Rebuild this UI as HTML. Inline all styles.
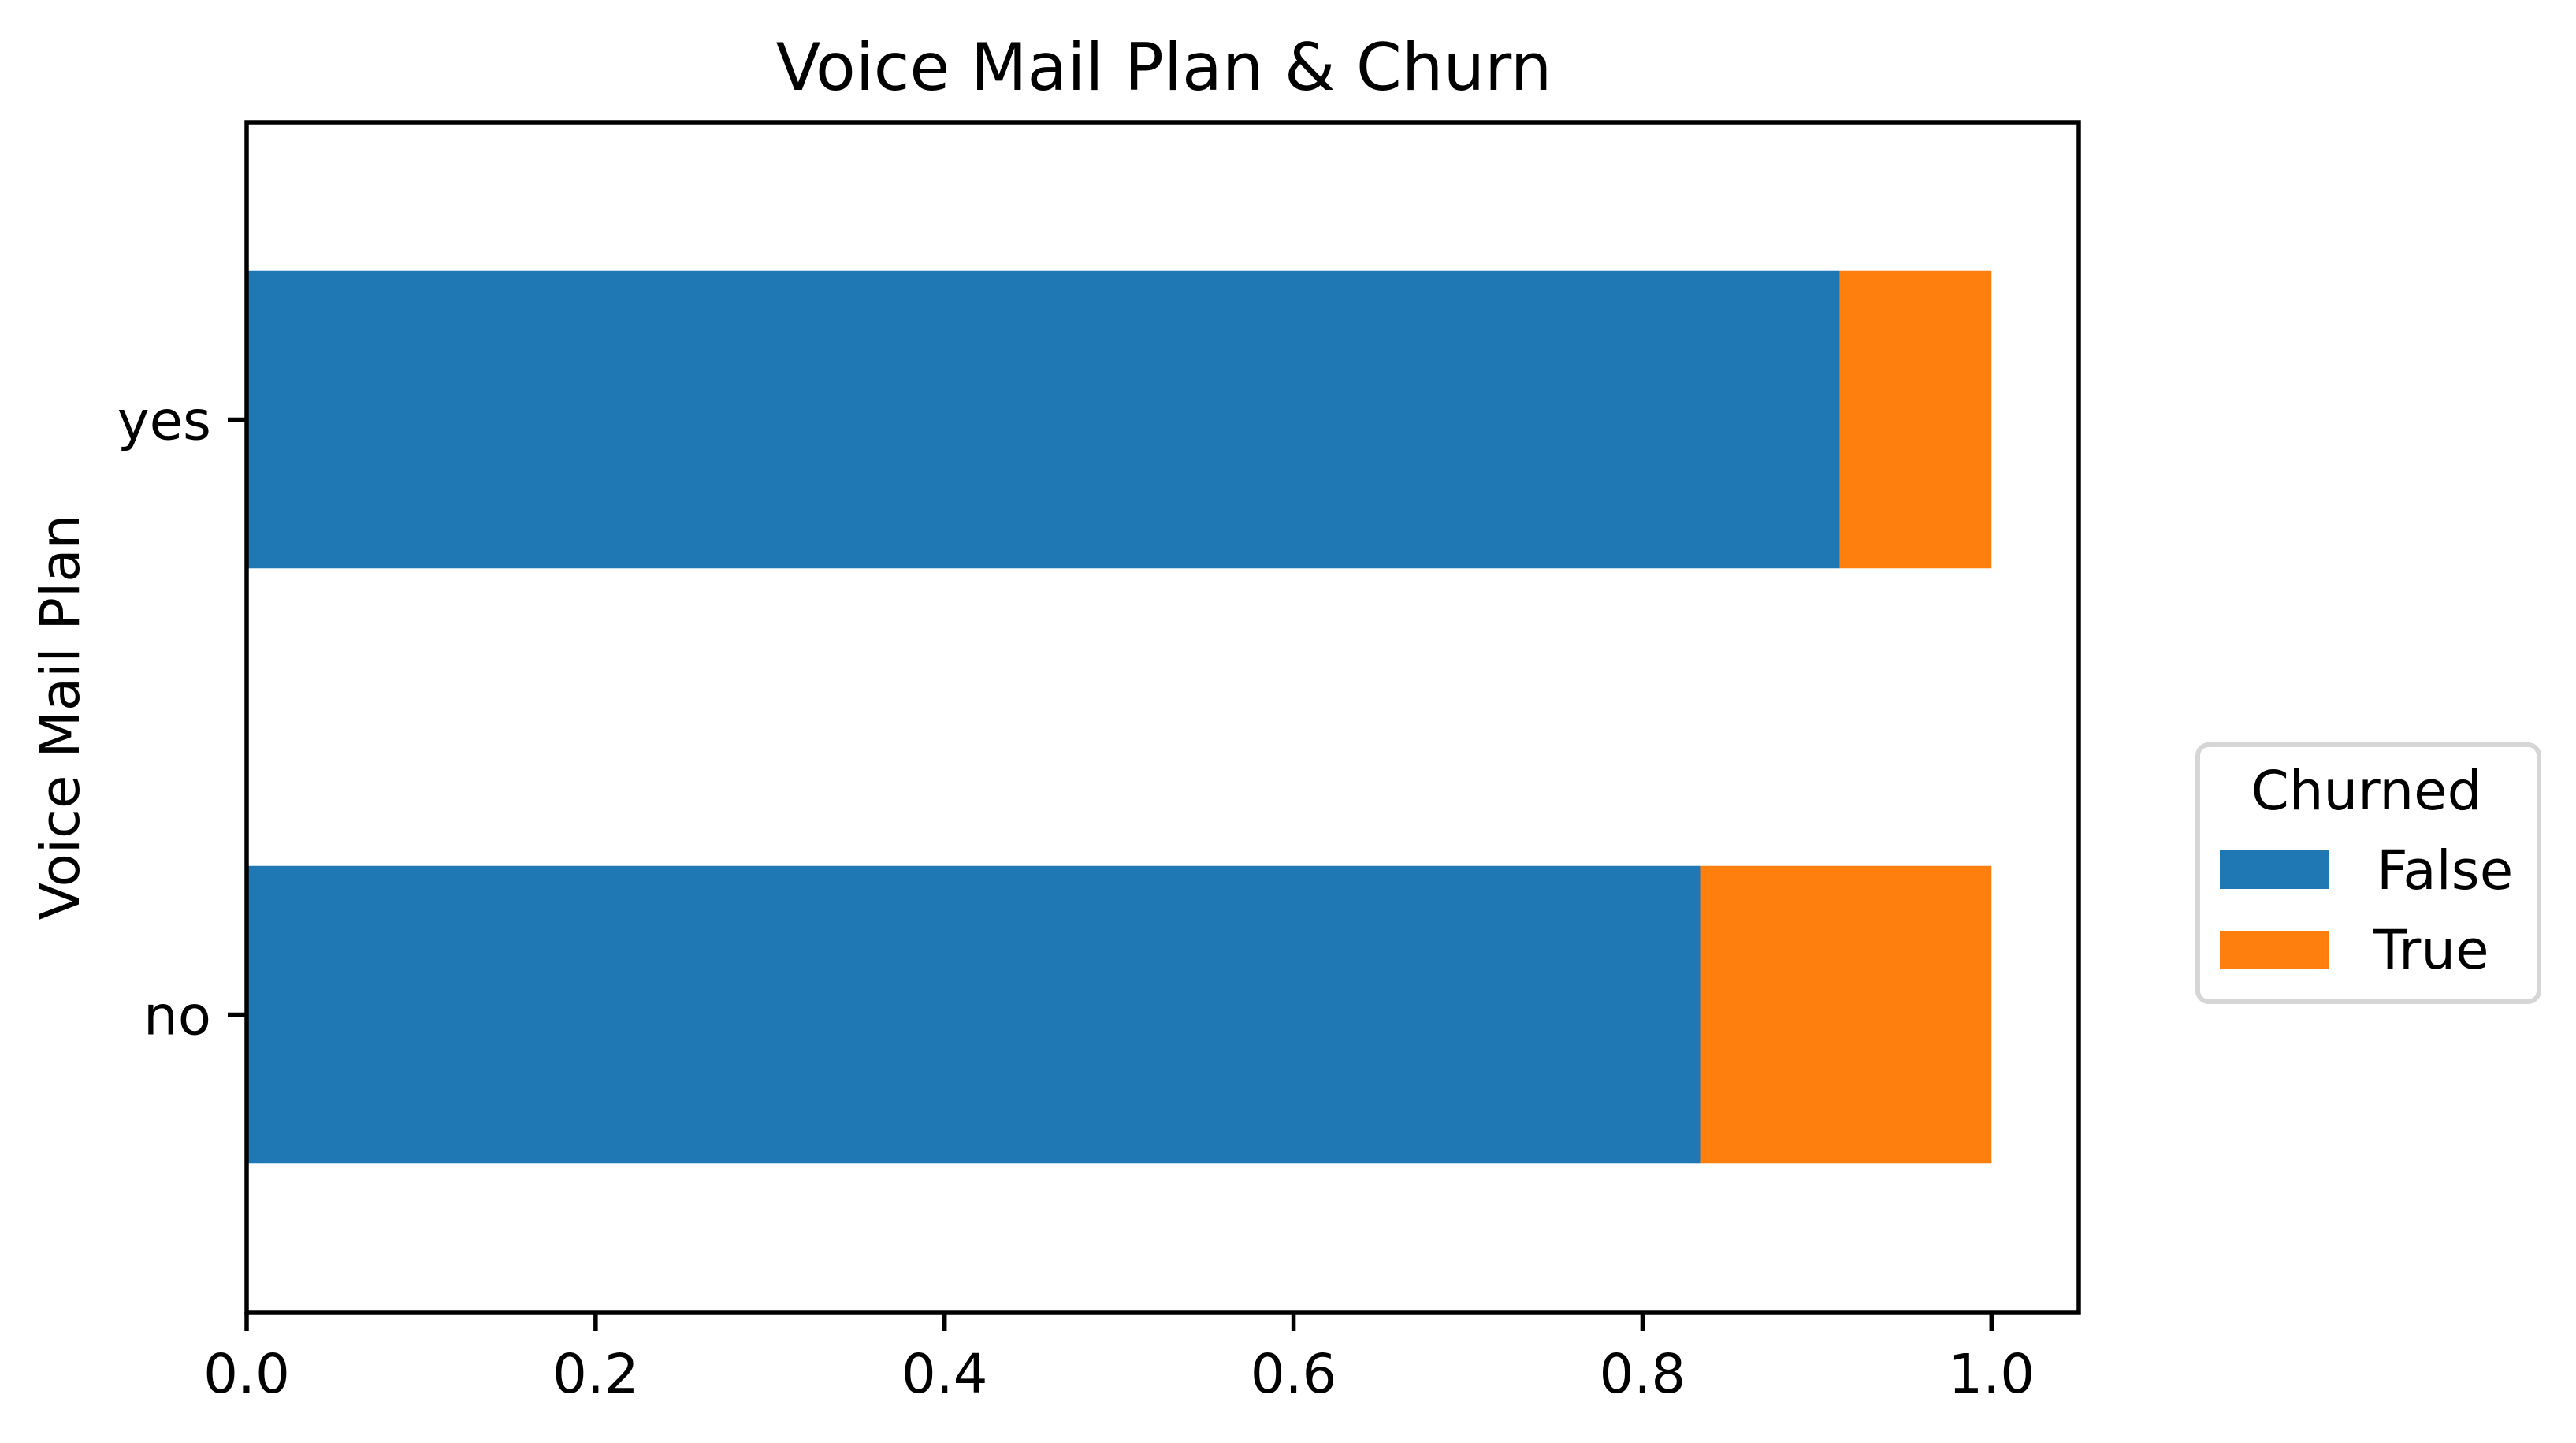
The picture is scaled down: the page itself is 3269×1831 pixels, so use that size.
<!DOCTYPE html>
<html><head><meta charset="utf-8"><style>
html,body{margin:0;padding:0;background:#fff;}
svg{display:block;font-family:"DejaVu Sans","Liberation Sans",sans-serif;}
</style></head><body>
<svg id="chart" width="3269" height="1831" viewBox="0 0 3269 1831" xmlns="http://www.w3.org/2000/svg">
<rect width="3269" height="1831" fill="#fff"/>
<text x="1477" y="114" font-size="83" text-anchor="middle">Voice Mail Plan &amp; Churn</text>
<g id="bars"></g>
<g id="axes"></g>
<text transform="translate(100,910) rotate(-90)" font-size="69" text-anchor="middle">Voice Mail Plan</text>
<g>
<rect x="2789" y="945" width="433" height="326" rx="14" fill="#fff" stroke="#d6d6d6" stroke-width="6"/>
<text x="3003" y="1027" font-size="69" text-anchor="middle">Churned</text>
<rect x="2817" y="1079" width="139" height="49" fill="#1f77b4"/>
<text x="3016" y="1128" font-size="69">False</text>
<rect x="2817" y="1181" width="139" height="48" fill="#ff7f0e"/>
<text x="3012" y="1229" font-size="69">True</text>
</g>
</svg>
<script>
const categories = ["no", "yes"];
const falseValues = [0.833, 0.913];
const trueValues = [0.167, 0.087];
const xTicks = [0, 0.2, 0.4, 0.6, 0.8, 1.0];
const xTickLabels = ["0.0", "0.2", "0.4", "0.6", "0.8", "1.0"];

const NS = "http://www.w3.org/2000/svg";
const L = 313, R = 2638, T = 155, B = 1665;
const X0 = 0, X1 = 1.05, Y0 = -0.5, Y1 = 1.5;
function xs(v){ return L + (v - X0) / (X1 - X0) * (R - L); }
function ys(v){ return B - (v - Y0) / (Y1 - Y0) * (B - T); }
function mk(tag, attrs, parent){ const e = document.createElementNS(NS, tag); for (const k in attrs) e.setAttribute(k, attrs[k]); parent.appendChild(e); return e; }

const bars = document.getElementById('bars');
const axes = document.getElementById('axes');
const half = (ys(0) - ys(0.5)) / 2;
categories.forEach((c, i) => {
  const yc = ys(i);
  const f = mk('rect', {x: xs(0), y: yc - half, width: xs(falseValues[i]) - xs(0), height: 2 * half, fill: '#1f77b4'}, bars);
  
  
  const t = mk('rect', {x: xs(falseValues[i]), y: yc - half, width: xs(falseValues[i] + trueValues[i]) - xs(falseValues[i]), height: 2 * half, fill: '#ff7f0e'}, bars);
  
  
  const tk = mk('line', {x1: L - 24, x2: L, y1: yc, y2: yc, stroke: '#000', 'stroke-width': 5.5}, axes);
  
  
  const lb = mk('text', {x: L - 45, y: yc + 25, 'font-size': 69, 'text-anchor': 'end'}, axes);
  lb.textContent = c;
  
  
});
xTicks.forEach((v, i) => {
  const x = xs(v);
  const tk = mk('line', {x1: x, x2: x, y1: B, y2: B + 24, stroke: '#000', 'stroke-width': 5.5}, axes);
  
  
  const lb = mk('text', {x: x, y: 1767, 'font-size': 69, 'text-anchor': 'middle'}, axes);
  lb.textContent = xTickLabels[i];
  
  
});
const frame = mk('rect', {x: L, y: T, width: R - L, height: B - T, fill: 'none', stroke: '#000', 'stroke-width': 5.5}, axes);


</script>
</body></html>
